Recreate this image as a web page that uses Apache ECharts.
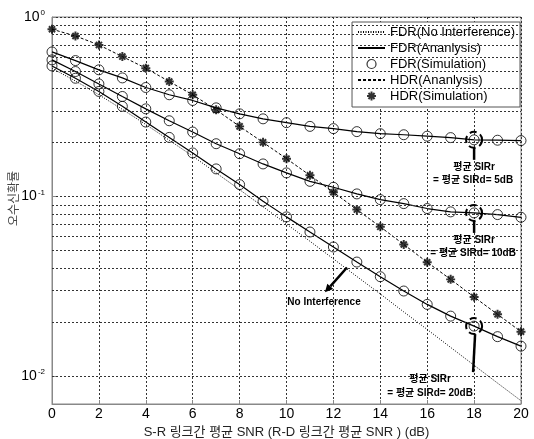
<!DOCTYPE html>
<html>
<head>
    <meta charset="utf-8">
    <title>FDR / HDR 오수신 확률</title>
    <script src="https://cdn.jsdelivr.net/npm/echarts@6/dist/echarts.min.js"></script>
</head>
<body style="margin:0">
    <div id="main" style="width: 534px;height:439px;"></div>
    <script type="text/javascript">
        // SNR (dB)
        var snr = [0, 1, 2, 3, 4, 5, 6, 7, 8, 9, 10, 11, 12, 13, 14, 15, 16, 17, 18, 19, 20];

        // FDR, 간섭 없음 (점선)
        var fdrNoInt = [0.518, 0.440, 0.369, 0.306, 0.252, 0.206, 0.168, 0.1355, 0.1093, 0.0878, 0.0704,
                        0.0564, 0.0450, 0.0359, 0.0287, 0.0228, 0.0182, 0.01446, 0.0115, 0.00915, 0.0073];
        // FDR, 평균 SIR = 5dB
        var fdr5 = [0.639, 0.572, 0.508, 0.458, 0.405, 0.369, 0.343, 0.312, 0.289, 0.271, 0.258,
                    0.246, 0.239, 0.230, 0.224, 0.221, 0.217, 0.213, 0.207, 0.206, 0.205];
        // FDR, 평균 SIR = 10dB
        var fdr10 = [0.577, 0.497, 0.424, 0.361, 0.308, 0.2644, 0.2288, 0.197, 0.1733, 0.152, 0.1355,
                     0.1216, 0.1127, 0.1035, 0.0962, 0.0914, 0.0858, 0.0822, 0.0811, 0.0794, 0.0767];
        // FDR, 평균 SIR = 20dB
        var fdr20 = [0.534, 0.456, 0.385, 0.318, 0.260, 0.2136, 0.175, 0.1426, 0.1166, 0.0942, 0.0771,
                     0.0635, 0.0524, 0.0432, 0.0358, 0.0298, 0.0251, 0.0216, 0.0190, 0.0166, 0.0147];
        // HDR
        var hdr = [0.855, 0.784, 0.699, 0.602, 0.519, 0.437, 0.369, 0.304, 0.246, 0.2004, 0.1626,
                   0.1313, 0.1057, 0.0847, 0.0679, 0.0541, 0.0431, 0.0346, 0.0276, 0.0221, 0.0177];

        // 로그 보조 격자선
        var minorGrid = [0.008, 0.009, 0.02, 0.03, 0.04, 0.05, 0.06, 0.07, 0.08, 0.09,
                         0.2, 0.3, 0.4, 0.5, 0.6, 0.7, 0.8, 0.9];

        // 평균 SIR 주석 (x, y, 라벨)
        var sirNotes = [
            [18, 0.207, '= 평균 SIRd= 5dB'],
            [18, 0.0811, '= 평균 SIRd= 10dB'],
            [18, 0.0190, '= 평균 SIRd= 20dB']
        ];

        var font = 'Arial, "Liberation Sans", "Noto Sans CJK KR", sans-serif';
        var starPath = 'path://M0,3.9L10,3.9L10,6.1L0,6.1Z M3.9,0L6.1,0L6.1,10L3.9,10Z ' +
            'M0.8,2.4L2.4,0.8L9.2,7.6L7.6,9.2Z M7.6,0.8L9.2,2.4L2.4,9.2L0.8,7.6Z';

        function pairs(ys) {
            return snr.map(function (x, i) { return [x, ys[i]]; });
        }

        var gridStyle = { type: [2, 2], color: '#333', width: 1 };

        var solid = { color: '#000', width: 1.2, type: 'solid' };
        var circleStyle = { color: 'transparent', borderColor: '#000', borderWidth: 1 };
        var noSymbol = { color: 'rgba(0,0,0,0)', borderColor: 'rgba(0,0,0,0)', borderWidth: 0 };

        var option = {
            animation: false,
            textStyle: { fontFamily: font },
            grid: {
                left: 52, right: 13, top: 17, bottom: 35,
                containLabel: false, outerBoundsMode: 'none',
                show: true, borderColor: '#888', borderWidth: 1
            },
            legend: {
                orient: 'vertical',
                right: 14,
                top: 22,
                backgroundColor: '#fff',
                borderColor: '#555',
                borderWidth: 1,
                borderRadius: 0,
                padding: [3, 5, 4, 5],
                itemGap: 2,
                itemWidth: 27,
                itemHeight: 9,
                textStyle: { fontSize: 13, color: '#000', lineHeight: 14, fontFamily: font },
                data: [
                    { name: 'FDR(No Interference)', itemStyle: noSymbol },
                    { name: 'FDR(Ananlysis)', itemStyle: noSymbol },
                    { name: 'FDR(Simulation)', itemStyle: { color: 'transparent', borderColor: '#000', borderWidth: 1.2 } },
                    { name: 'HDR(Ananlysis)', itemStyle: noSymbol },
                    { name: 'HDR(Simulation)' }
                ]
            },
            xAxis: {
                type: 'value',
                min: 0,
                max: 20,
                interval: 2,
                name: 'S-R 링크간 평균 SNR (R-D 링크간 평균 SNR ) (dB)',
                nameLocation: 'middle',
                nameGap: 22,
                nameMoveOverlap: false,
                nameTextStyle: { fontSize: 13, color: '#222' },
                axisLine: { lineStyle: { color: '#888' } },
                axisTick: { inside: true, length: 4, lineStyle: { color: '#888' } },
                axisLabel: { fontSize: 14, color: '#000', margin: 3 },
                splitLine: { show: true, lineStyle: gridStyle }
            },
            yAxis: {
                type: 'log',
                logBase: 10,
                min: 0.007,
                max: 1,
                name: '오수신확률',
                nameLocation: 'middle',
                nameRotate: 90,
                nameGap: 31,
                nameMoveOverlap: false,
                nameTextStyle: { fontSize: 12, color: '#444', padding: [0, 0, 0, 24] },
                axisLine: { lineStyle: { color: '#888' } },
                axisTick: { inside: true, length: 4, lineStyle: { color: '#888' } },
                axisLabel: {
                    margin: 7,
                    formatter: function (v) {
                        var e = Math.log10(v);
                        if (Math.abs(e - Math.round(e)) > 1e-6) return '';
                        return '{b|10}{s|' + Math.round(e) + '}';
                    },
                    rich: {
                        b: { fontSize: 14, color: '#000', fontFamily: font },
                        s: { fontSize: 8, color: '#000', verticalAlign: 'top', padding: [0, 0, 8, 1], fontFamily: font }
                    }
                },
                splitLine: { show: true, lineStyle: gridStyle }
            },
            series: [
                {
                    name: 'grid-minor',
                    type: 'line',
                    data: [],
                    z: 1,
                    silent: true,
                    markLine: {
                        silent: true,
                        symbol: 'none',
                        label: { show: false },
                        lineStyle: gridStyle,
                        data: minorGrid.map(function (v) { return { yAxis: v }; })
                    }
                },
                {
                    name: 'FDR(No Interference)',
                    type: 'line',
                    data: pairs(fdrNoInt),
                    symbol: 'none',
                    lineStyle: { color: '#000', width: 1, type: [1, 1.5] },
                    itemStyle: { color: '#000' }
                },
                { name: 'FDR(Ananlysis)', type: 'line', data: pairs(fdr5), symbol: 'none', lineStyle: solid, itemStyle: { color: '#000' } },
                { name: 'FDR(Ananlysis)', type: 'line', data: pairs(fdr10), symbol: 'none', lineStyle: solid, itemStyle: { color: '#000' } },
                { name: 'FDR(Ananlysis)', type: 'line', data: pairs(fdr20), symbol: 'none', lineStyle: solid, itemStyle: { color: '#000' } },
                { name: 'FDR(Simulation)', type: 'scatter', data: pairs(fdr5), symbol: 'circle', symbolSize: 10, itemStyle: circleStyle },
                { name: 'FDR(Simulation)', type: 'scatter', data: pairs(fdr10), symbol: 'circle', symbolSize: 10, itemStyle: circleStyle },
                { name: 'FDR(Simulation)', type: 'scatter', data: pairs(fdr20), symbol: 'circle', symbolSize: 10, itemStyle: circleStyle },
                {
                    name: 'HDR(Ananlysis)',
                    type: 'line',
                    data: pairs(hdr),
                    symbol: 'none',
                    lineStyle: { color: '#000', width: 1, type: [3, 2] },
                    itemStyle: { color: '#000' }
                },
                {
                    name: 'HDR(Simulation)',
                    type: 'scatter',
                    data: pairs(hdr),
                    symbol: starPath,
                    symbolSize: 9,
                    itemStyle: { color: '#000' }
                }
            ]
        };

        var chart = echarts.init(document.getElementById('main'));
        chart.setOption(option);

        // 주석: 점선 원, 화살표 선, 텍스트
        function px(x, y) {
            return chart.convertToPixel({ xAxisIndex: 0, yAxisIndex: 0 }, [x, y]);
        }
        var noteFont = { fontSize: 10, fontWeight: 'bold', fontFamily: font, fill: '#000', align: 'center', verticalAlign: 'middle' };
        function txt(x, y, s) {
            return { type: 'text', x: x, y: y, z: 20, style: Object.assign({ text: s }, noteFont) };
        }
        var g = [];
        sirNotes.forEach(function (n, i) {
            var p = px(n[0], n[1]);
            g.push({ type: 'circle', z: 20, shape: { cx: p[0], cy: p[1], r: 8 },
                     style: { fill: 'none', stroke: '#000', lineWidth: 2, lineDash: [7, 4] } });
            if (i < 2) {
                g.push({ type: 'line', z: 20, shape: { x1: p[0], y1: p[1] + 8, x2: p[0], y2: p[1] + 20 },
                         style: { stroke: '#000', lineWidth: 2.5 } });
                g.push(txt(p[0], p[1] + 27, '평균 SIRr'));
                g.push(txt(p[0] - 1, p[1] + 40, n[2]));
            } else {
                g.push({ type: 'line', z: 20, shape: { x1: p[0] + 1, y1: p[1] + 8, x2: p[0] - 1, y2: p[1] + 46 },
                         style: { stroke: '#000', lineWidth: 2.5 } });
                g.push(txt(p[0] - 44, p[1] + 53, '평균 SIRr'));
                g.push(txt(p[0] - 44, p[1] + 67, n[2]));
            }
        });

        // No Interference 화살표
        var a0 = px(12.58, 0.0403), a1 = px(11.64, 0.0293);
        var dx = a1[0] - a0[0], dy = a1[1] - a0[1], len = Math.sqrt(dx * dx + dy * dy);
        var ux = dx / len, uy = dy / len;
        var hl = 8, hw = 4;
        var bx = a1[0] - ux * hl, by = a1[1] - uy * hl;
        g.push({ type: 'line', z: 20, shape: { x1: a0[0], y1: a0[1], x2: bx, y2: by }, style: { stroke: '#000', lineWidth: 2.5 } });
        g.push({ type: 'polygon', z: 20, shape: { points: [a1, [bx - uy * hw, by + ux * hw], [bx + uy * hw, by - ux * hw]] },
                 style: { fill: '#000' } });
        var tp = px(11.6, 0.0258);
        g.push(txt(tp[0], tp[1], 'No Interference'));

        chart.setOption({ graphic: g });
    </script>
</body>
</html>
